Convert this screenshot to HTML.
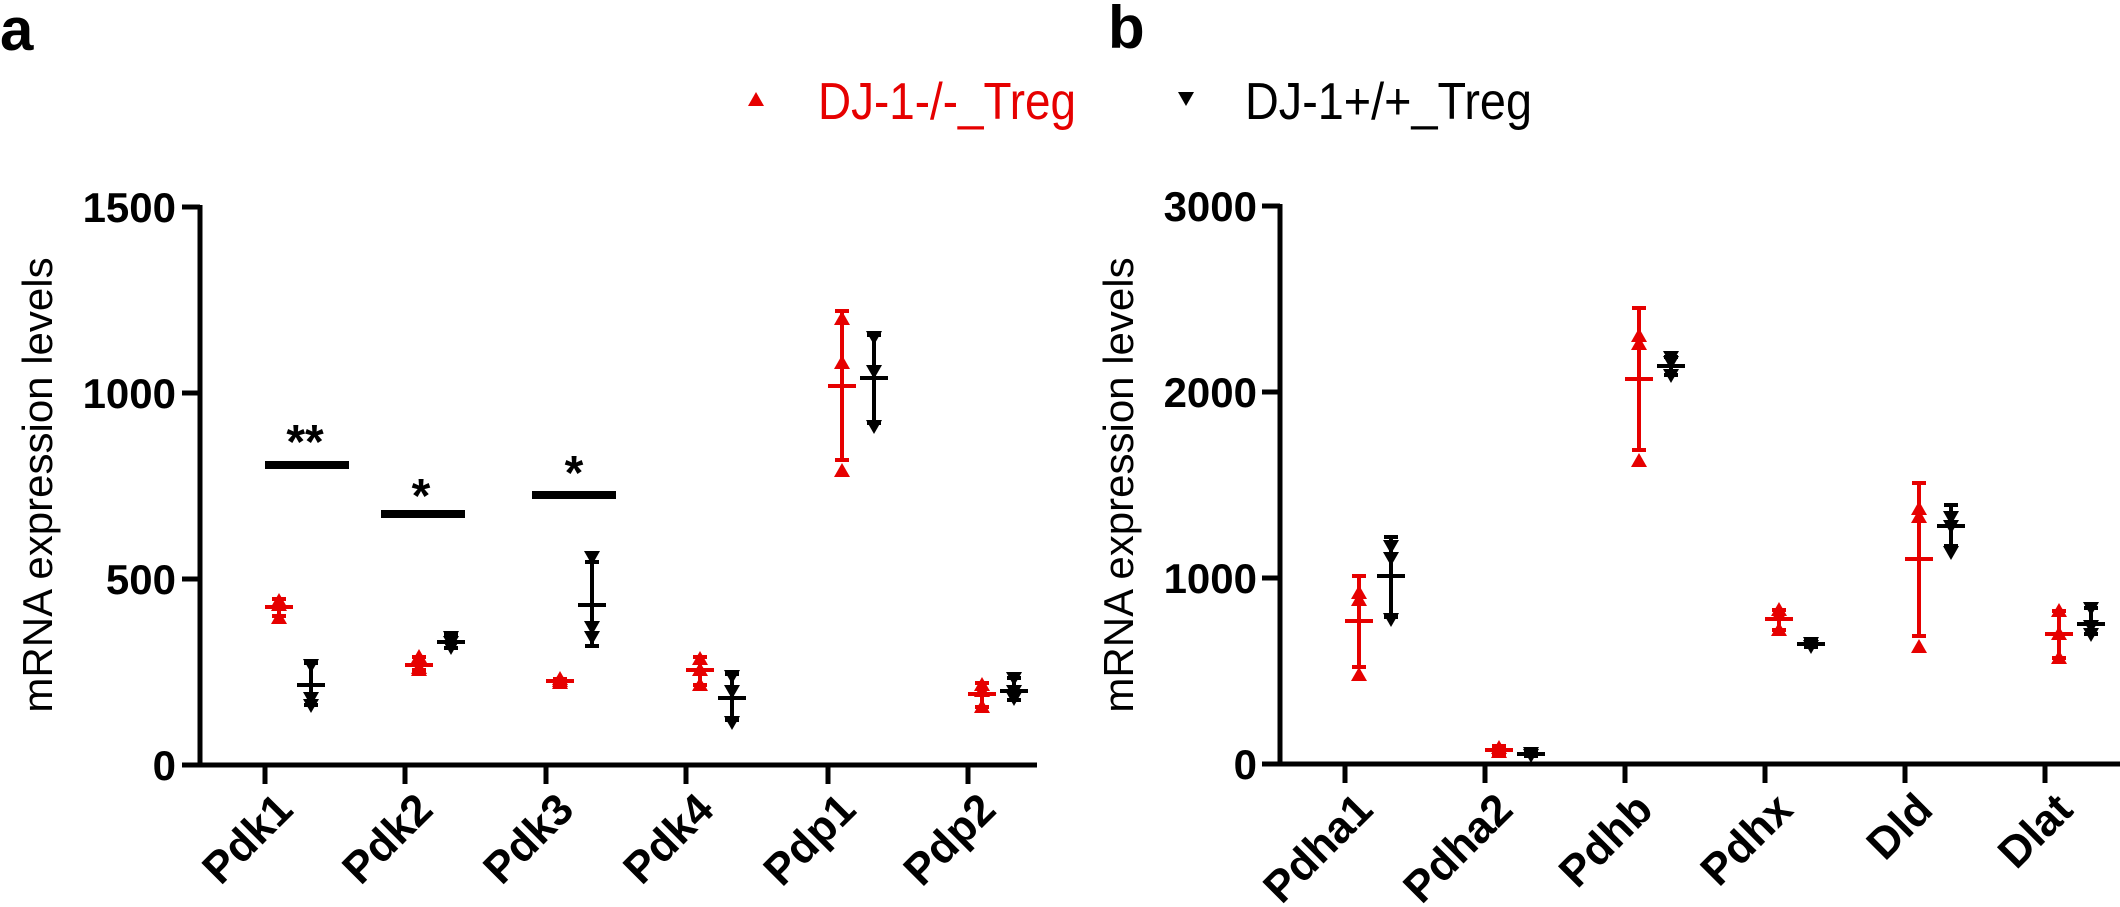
<!DOCTYPE html>
<html><head><meta charset="utf-8"><style>
html,body{margin:0;padding:0;background:#fff;}
svg{display:block;}
text{font-family:"Liberation Sans",Arial,sans-serif;}
</style></head><body>
<svg width="2120" height="907" viewBox="0 0 2120 907" xmlns="http://www.w3.org/2000/svg">
<defs>
<path id="tu" d="M0,-8 L8,6 L-8,6 Z" fill="#e60000"/>
<path id="td" d="M0,8 L8,-6 L-8,-6 Z" fill="#000"/>
</defs>
<text x="0" y="50" font-size="60" font-weight="bold">a</text>
<text x="1108" y="48" font-size="60" font-weight="bold">b</text>
<!-- legend -->
<use href="#tu" x="756" y="100"/>
<text x="818" y="119" font-size="52" fill="#e60000" textLength="258" lengthAdjust="spacingAndGlyphs">DJ-1-/-_Treg</text>
<use href="#td" x="1186" y="98"/>
<text x="1245" y="119" font-size="52" fill="#000" textLength="287" lengthAdjust="spacingAndGlyphs">DJ-1+/+_Treg</text>

<!-- LEFT PANEL axes -->
<g stroke="#000" stroke-width="5" fill="none">
<line x1="200" y1="205" x2="200" y2="767"/>
<line x1="198" y1="765" x2="1037" y2="765"/>
<line x1="182" y1="207" x2="200" y2="207"/>
<line x1="182" y1="393" x2="200" y2="393"/>
<line x1="182" y1="579" x2="200" y2="579"/>
<line x1="182" y1="765" x2="200" y2="765"/>
<line x1="265" y1="765" x2="265" y2="784"/>
<line x1="405" y1="765" x2="405" y2="784"/>
<line x1="546" y1="765" x2="546" y2="784"/>
<line x1="686" y1="765" x2="686" y2="784"/>
<line x1="828" y1="765" x2="828" y2="784"/>
<line x1="968" y1="765" x2="968" y2="784"/>
</g>
<g font-size="42" font-weight="bold" text-anchor="end">
<text x="176" y="222">1500</text>
<text x="176" y="408">1000</text>
<text x="176" y="594">500</text>
<text x="176" y="780">0</text>
</g>
<text transform="translate(52,485) rotate(-90)" font-size="42" text-anchor="middle">mRNA expression levels</text>
<g font-size="44" font-weight="bold" text-anchor="end">
<text transform="translate(295,812) rotate(-45)">Pdk1</text>
<text transform="translate(435,812) rotate(-45)">Pdk2</text>
<text transform="translate(576,812) rotate(-45)">Pdk3</text>
<text transform="translate(716,812) rotate(-45)">Pdk4</text>
<text transform="translate(858,812) rotate(-45)">Pdp1</text>
<text transform="translate(998,812) rotate(-45)">Pdp2</text>
</g>
<!-- significance -->
<g fill="#000">
<rect x="265" y="461" width="84" height="8"/>
<rect x="381" y="510" width="84" height="8"/>
<rect x="532" y="491" width="84" height="8"/>
</g>
<g font-size="48" font-weight="bold" text-anchor="middle">
<text x="305" y="458">**</text>
<text x="421" y="512">*</text>
<text x="574" y="489">*</text>
</g>

<!-- RIGHT PANEL axes -->
<g stroke="#000" stroke-width="5" fill="none">
<line x1="1280" y1="204" x2="1280" y2="766"/>
<line x1="1278" y1="764" x2="2120" y2="764"/>
<line x1="1262" y1="206" x2="1280" y2="206"/>
<line x1="1262" y1="392" x2="1280" y2="392"/>
<line x1="1262" y1="578" x2="1280" y2="578"/>
<line x1="1262" y1="764" x2="1280" y2="764"/>
<line x1="1345" y1="764" x2="1345" y2="783"/>
<line x1="1485" y1="764" x2="1485" y2="783"/>
<line x1="1625" y1="764" x2="1625" y2="783"/>
<line x1="1765" y1="764" x2="1765" y2="783"/>
<line x1="1905" y1="764" x2="1905" y2="783"/>
<line x1="2045" y1="764" x2="2045" y2="783"/>
</g>
<g font-size="42" font-weight="bold" text-anchor="end">
<text x="1257" y="221">3000</text>
<text x="1257" y="407">2000</text>
<text x="1257" y="593">1000</text>
<text x="1257" y="779">0</text>
</g>
<text transform="translate(1133,485) rotate(-90)" font-size="42" text-anchor="middle">mRNA expression levels</text>
<g font-size="44" font-weight="bold" text-anchor="end">
<text transform="translate(1375,812) rotate(-45)">Pdha1</text>
<text transform="translate(1515,812) rotate(-45)">Pdha2</text>
<text transform="translate(1655,812) rotate(-45)">Pdhb</text>
<text transform="translate(1795,812) rotate(-45)">Pdhx</text>
<text transform="translate(1935,812) rotate(-45)">Dld</text>
<text transform="translate(2075,812) rotate(-45)">Dlat</text>
</g>

<!-- DATA: red -->
<g stroke="#e60000" stroke-width="4" fill="none">
<path d="M279,599 V616 M272,599 H286 M272,616 H286 M265,607 H293"/>
<path d="M419,657 V670 M412,657 H426 M412,670 H426 M405,665 H433"/>
<path d="M560,679 V684 M553,679 H567 M553,684 H567 M546,681 H574"/>
<path d="M700,657 V685 M693,657 H707 M693,685 H707 M686,670 H714"/>
<path d="M842,311 V460 M835,311 H849 M835,460 H849 M828,386 H856"/>
<path d="M982,683 V707 M975,683 H989 M975,707 H989 M968,694 H996"/>
<path d="M1359,576 V667 M1352,576 H1366 M1352,667 H1366 M1345,621 H1373"/>
<path d="M1499,746 V754 M1492,746 H1506 M1492,754 H1506 M1485,750 H1513"/>
<path d="M1639,308 V450 M1632,308 H1646 M1632,450 H1646 M1625,379 H1653"/>
<path d="M1779,610 V630 M1772,610 H1786 M1772,630 H1786 M1765,619 H1793"/>
<path d="M1919,483 V636 M1912,483 H1926 M1912,636 H1926 M1905,559 H1933"/>
<path d="M2059,611 V658 M2052,611 H2066 M2052,658 H2066 M2045,634 H2073"/>
</g>
<g>
<use href="#tu" x="279" y="601"/><use href="#tu" x="279" y="605"/><use href="#tu" x="279" y="618"/>
<use href="#tu" x="419" y="657"/><use href="#tu" x="419" y="668"/><use href="#tu" x="419" y="670"/>
<use href="#tu" x="560" y="679"/><use href="#tu" x="560" y="681"/><use href="#tu" x="560" y="683"/>
<use href="#tu" x="700" y="659"/><use href="#tu" x="700" y="670"/><use href="#tu" x="700" y="685"/>
<use href="#tu" x="842" y="319"/><use href="#tu" x="842" y="363"/><use href="#tu" x="842" y="471"/>
<use href="#tu" x="982" y="685"/><use href="#tu" x="982" y="691"/><use href="#tu" x="982" y="707"/>
<use href="#tu" x="1359" y="593"/><use href="#tu" x="1359" y="600"/><use href="#tu" x="1359" y="675"/>
<use href="#tu" x="1499" y="748"/><use href="#tu" x="1499" y="752"/>
<use href="#tu" x="1639" y="336"/><use href="#tu" x="1639" y="344"/><use href="#tu" x="1639" y="461"/>
<use href="#tu" x="1779" y="610"/><use href="#tu" x="1779" y="615"/><use href="#tu" x="1779" y="630"/>
<use href="#tu" x="1919" y="509"/><use href="#tu" x="1919" y="517"/><use href="#tu" x="1919" y="647"/>
<use href="#tu" x="2059" y="611"/><use href="#tu" x="2059" y="634"/><use href="#tu" x="2059" y="658"/>
</g>

<!-- DATA: black -->
<g stroke="#000" stroke-width="4" fill="none">
<path d="M311,663 V705 M304,663 H318 M304,705 H318 M297,685 H325"/>
<path d="M451,635 V648 M444,635 H458 M444,648 H458 M437,642 H465"/>
<path d="M592,562 V646 M585,562 H599 M585,646 H599 M578,605 H606"/>
<path d="M732,674 V720 M725,674 H739 M725,720 H739 M718,698 H746"/>
<path d="M874,335 V423 M867,335 H881 M867,423 H881 M860,378 H888"/>
<path d="M1014,678 V700 M1007,678 H1021 M1007,700 H1021 M1000,691 H1028"/>
<path d="M1391,537 V617 M1384,537 H1398 M1384,617 H1398 M1377,576 H1405"/>
<path d="M1531,752 V756 M1524,752 H1538 M1524,756 H1538 M1517,754 H1545"/>
<path d="M1671,357 V375 M1664,357 H1678 M1664,375 H1678 M1657,366 H1685"/>
<path d="M1811,641 V647 M1804,641 H1818 M1804,647 H1818 M1797,644 H1825"/>
<path d="M1951,505 V546 M1944,505 H1958 M1944,546 H1958 M1937,526 H1965"/>
<path d="M2091,608 V634 M2084,608 H2098 M2084,634 H2098 M2077,624 H2105"/>
</g>
<g>
<use href="#td" x="311" y="665"/><use href="#td" x="311" y="698"/><use href="#td" x="311" y="705"/>
<use href="#td" x="451" y="637"/><use href="#td" x="451" y="642"/><use href="#td" x="451" y="647"/>
<use href="#td" x="592" y="557"/><use href="#td" x="592" y="627"/><use href="#td" x="592" y="637"/>
<use href="#td" x="732" y="676"/><use href="#td" x="732" y="691"/><use href="#td" x="732" y="722"/>
<use href="#td" x="874" y="337"/><use href="#td" x="874" y="371"/><use href="#td" x="874" y="426"/>
<use href="#td" x="1014" y="678"/><use href="#td" x="1014" y="691"/><use href="#td" x="1014" y="698"/>
<use href="#td" x="1391" y="546"/><use href="#td" x="1391" y="558"/><use href="#td" x="1391" y="619"/>
<use href="#td" x="1531" y="753"/><use href="#td" x="1531" y="755"/>
<use href="#td" x="1671" y="357"/><use href="#td" x="1671" y="362"/><use href="#td" x="1671" y="375"/>
<use href="#td" x="1811" y="643"/><use href="#td" x="1811" y="646"/>
<use href="#td" x="1951" y="517"/><use href="#td" x="1951" y="526"/><use href="#td" x="1951" y="552"/>
<use href="#td" x="2091" y="608"/><use href="#td" x="2091" y="626"/><use href="#td" x="2091" y="634"/>
</g>
</svg>
</body></html>
